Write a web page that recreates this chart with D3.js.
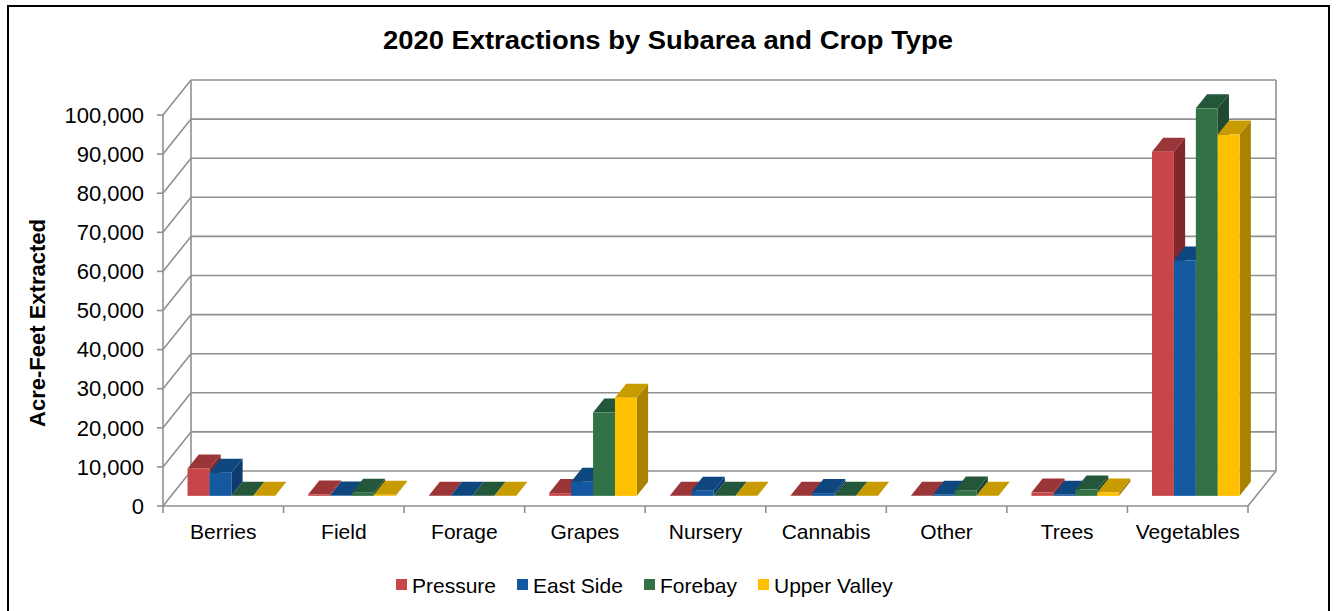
<!DOCTYPE html>
<html><head><meta charset="utf-8">
<script src="https://cdn.jsdelivr.net/npm/d3@7/dist/d3.min.js"></script>
<style>body{margin:0;background:#fff}svg{display:block}text{font-family:"Liberation Sans",Arial,sans-serif}</style>
</head><body><svg id="c" width="1336" height="611"></svg>
<script>
const categories = ["Berries","Field","Forage","Grapes","Nursery","Cannabis","Other","Trees","Vegetables"];
const seriesNames = ["Pressure","East Side","Forebay","Upper Valley"];
const pressure    = [7000, 350, 0, 700, 0, 0, 0, 850, 88000];
const eastSide    = [5900, 100, 0, 3600, 1300, 700, 250, 250, 60200];
const forebay     = [0, 770, 0, 21300, 0, 0, 1400, 1600, 99100];
const upperValley = [0, 250, 0, 25100, 0, 0, 0, 850, 92400];
const yTicks = [0,10000,20000,30000,40000,50000,60000,70000,80000,90000,100000];

const seriesValues = [pressure, eastSide, forebay, upperValley];
const colors = [
  {front:"#C8464A", top:"#9A3538", side:"#80292C"},
  {front:"#1458A0", top:"#0E4680", side:"#0C3B6C"},
  {front:"#327246", top:"#24573A", side:"#1F4A30"},
  {front:"#FFC000", top:"#C89B00", side:"#A98300"}
];

const svg = d3.select("#c");
const DX = 28, DY = -35;
const F0 = 0.29, F1 = 0.69;
const x = d3.scaleBand().domain(categories).range([163,1248]).padding(0);
const y = d3.scaleLinear().domain([0,100000]).range([506,115]);
const bw = x.bandwidth();
const gw = bw*4/5.5;
const xs = d3.scaleBand().domain(seriesNames).range([0,gw]).padding(0);

svg.append("rect").attr("x",8).attr("y",6).attr("width",1321).attr("height",620)
  .attr("fill","none").attr("stroke","#000").attr("stroke-width",2);

svg.append("text").attr("x",668).attr("y",49).attr("text-anchor","middle")
  .attr("font-size",26.5).attr("font-weight","bold").attr("textLength",570).attr("lengthAdjust","spacingAndGlyphs")
  .text("2020 Extractions by Subarea and Crop Type");

const grid = svg.append("g").attr("stroke","#909090").attr("stroke-width",1.6).attr("fill","none");
const x0 = x.range()[0], x1 = x.range()[1];
yTicks.forEach(t=>{
  grid.append("line").attr("x1",x0+DX).attr("x2",x1+DX).attr("y1",y(t)+DY).attr("y2",y(t)+DY);
  grid.append("line").attr("x1",x0).attr("x2",x0+DX).attr("y1",y(t)).attr("y2",y(t)+DY);
  grid.append("line").attr("x1",x0-6).attr("x2",x0).attr("y1",y(t)).attr("y2",y(t));
});
const yMax = yTicks[yTicks.length-1];
grid.append("line").attr("x1",x0+DX).attr("x2",x0+DX).attr("y1",y(yMax)+DY).attr("y2",y(0)+DY);
grid.append("line").attr("x1",x1+DX).attr("x2",x1+DX).attr("y1",y(yMax)+DY).attr("y2",y(0)+DY);
grid.append("line").attr("x1",x0).attr("x2",x0).attr("y1",y(yMax)).attr("y2",y(0));
grid.append("line").attr("x1",x1).attr("x2",x1+DX).attr("y1",y(0)).attr("y2",y(0)+DY);
grid.append("line").attr("x1",x0).attr("x2",x1).attr("y1",y(0)).attr("y2",y(0));
categories.concat([null]).forEach((c,i)=>{
  const xx = x0 + i*bw;
  grid.append("line").attr("x1",xx).attr("x2",xx).attr("y1",y(0)).attr("y2",y(0)+7);
});

// y tick labels
const fmt = d3.format(",");
svg.append("g").selectAll("text").data(yTicks).join("text")
  .attr("x",144).attr("y",d=>y(d)).attr("dy","0.35em").attr("text-anchor","end")
  .attr("font-size",22).text(d=>fmt(d));

// category labels
svg.append("g").selectAll("text").data(categories).join("text")
  .attr("x",d=>x(d)+bw/2).attr("y",539).attr("text-anchor","middle")
  .attr("font-size",21).text(d=>d);

svg.append("text").attr("transform","translate(45,323) rotate(-90)").attr("text-anchor","middle")
  .attr("font-size",22).attr("font-weight","bold").text("Acre-Feet Extracted");

// bars
const bars = svg.append("g");
const fdx = DX*F0, fdy = DY*F0, ddx = DX*(F1-F0), ddy = DY*(F1-F0);
categories.forEach((c,ci)=>{
  seriesNames.forEach((s,si)=>{
    const v = seriesValues[si][ci];
    const L = x(c) + (bw-gw)/2 + xs(s) + fdx;
    const R = L + xs.bandwidth();
    const T = y(v) + fdy, B = y(0) + fdy;
    const col = colors[si];
    const g = bars.append("g");
    g.append("polygon").attr("fill",col.side)
      .attr("points",[[R,T],[R+ddx,T+ddy],[R+ddx,B+ddy],[R,B]].map(p=>p.join(",")).join(" "));
    g.append("polygon").attr("fill",col.top)
      .attr("points",[[L,T],[L+ddx,T+ddy],[R+ddx,T+ddy],[R,T]].map(p=>p.join(",")).join(" "));
    g.append("rect").attr("fill",col.front).attr("x",L).attr("y",T).attr("width",R-L).attr("height",Math.max(0,B-T));
  });
});

// legend
const legendX = [396,517,644,758];
const lg = svg.append("g");
seriesNames.forEach((s,i)=>{
  lg.append("rect").attr("x",legendX[i]).attr("y",579).attr("width",11).attr("height",11).attr("fill",colors[i].front);
  lg.append("text").attr("x",legendX[i]+16).attr("y",593).attr("font-size",21).text(s);
});
</script></body></html>
